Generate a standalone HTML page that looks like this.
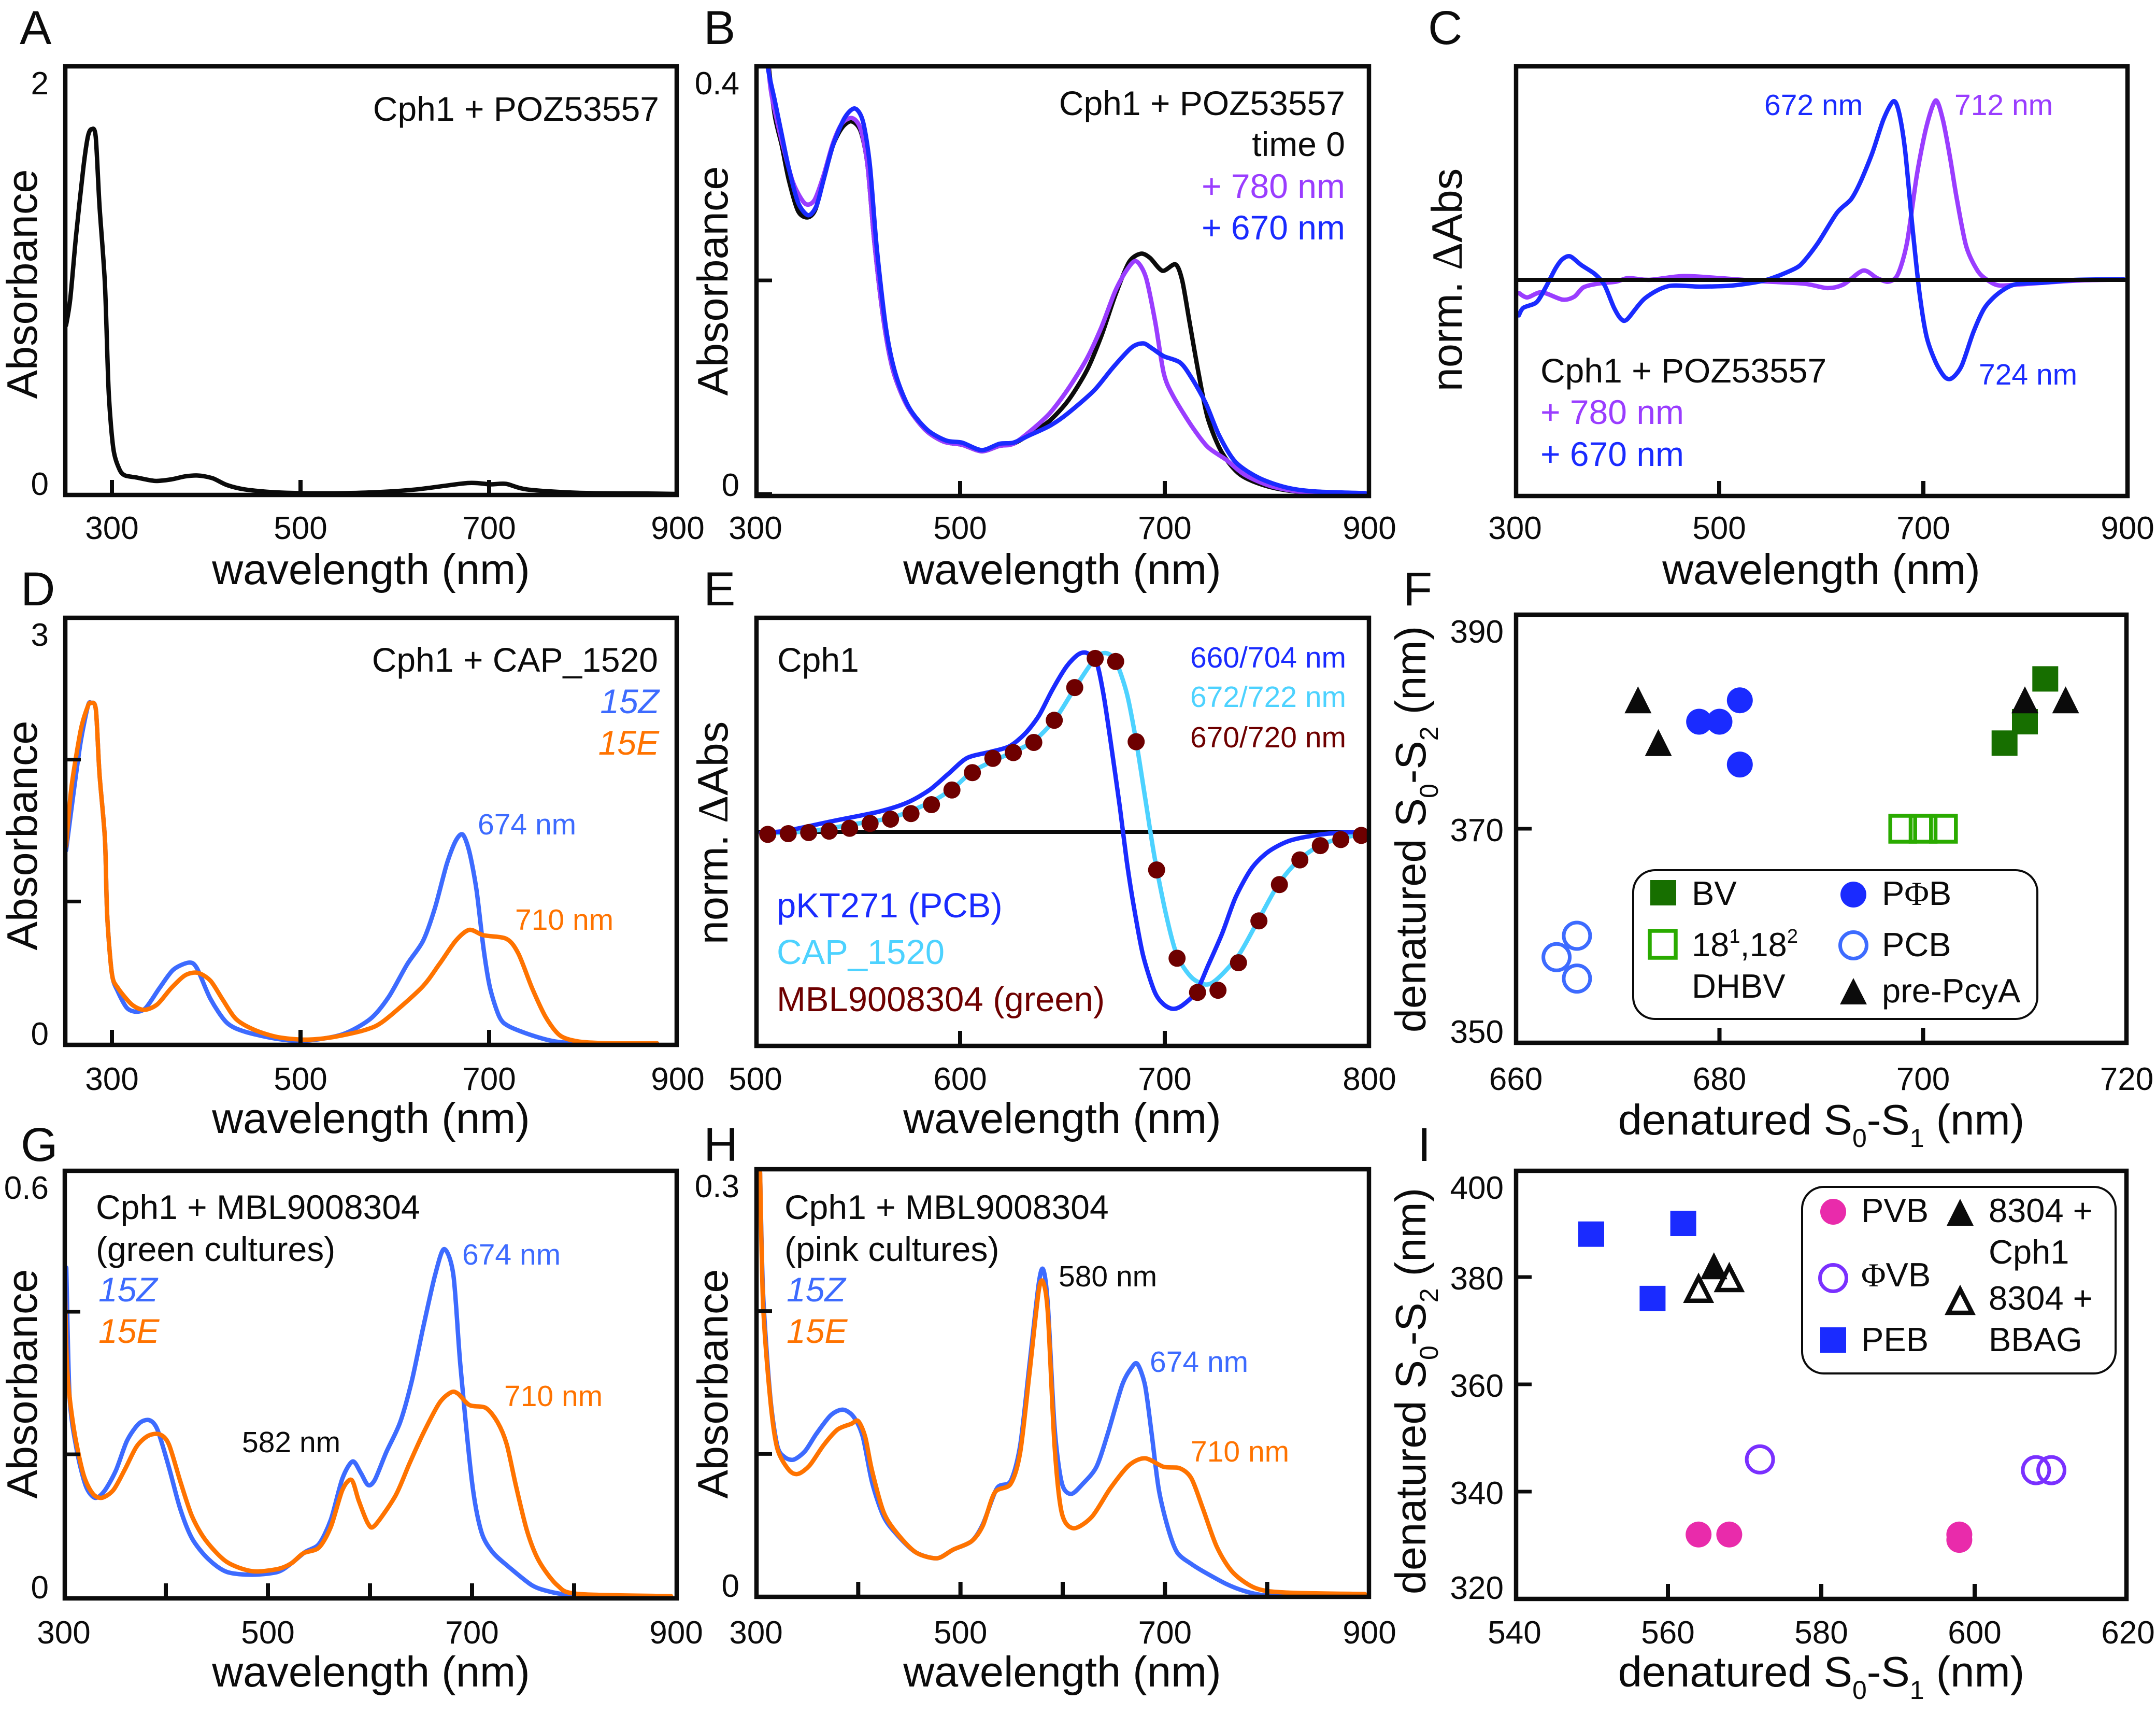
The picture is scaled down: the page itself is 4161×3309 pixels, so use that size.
<!DOCTYPE html>
<html lang="en">
<head>
<meta charset="utf-8">
<title>Absorbance spectra panels</title>
<style>
html,body{margin:0;padding:0;background:#fff;}
svg{display:block;}
text{font-family:"Liberation Sans",sans-serif;fill:#0b0b0b;}
.tick{font-size:62px;}
.title{font-size:83px;}
.ann{font-size:66px;}
.small{font-size:57px;}
.letter{font-size:92px;}
.serif{font-family:"Liberation Serif",serif;}
.it{font-style:italic;}
.sub{font-size:50px;}
.leg{font-size:65px;}
</style>
</head>
<body>
<svg id="chart" xmlns="http://www.w3.org/2000/svg" width="4161" height="3309" viewBox="0 0 4161 3309">
<rect x="0" y="0" width="4161" height="3309" fill="#fff"/>
<g id="plots"></g>

<g>
<text class="letter" x="38" y="85">A</text>
<text class="letter" x="1358" y="85">B</text>
<text class="letter" x="2756" y="85">C</text>
<text class="letter" x="40" y="1168">D</text>
<text class="letter" x="1358" y="1168">E</text>
<text class="letter" x="2708" y="1168">F</text>
<text class="letter" x="40" y="2240">G</text>
<text class="letter" x="1358" y="2240">H</text>
<text class="letter" x="2736" y="2240">I</text>
</g>

<g>
<text class="title" x="716" y="1127" text-anchor="middle">wavelength (nm)</text>
<text class="title" x="2050" y="1127" text-anchor="middle">wavelength (nm)</text>
<text class="title" x="3515" y="1127" text-anchor="middle">wavelength (nm)</text>
<text class="title" x="716" y="2186" text-anchor="middle">wavelength (nm)</text>
<text class="title" x="2050" y="2186" text-anchor="middle">wavelength (nm)</text>
<text class="title" x="3515" y="2189" text-anchor="middle">denatured S<tspan class="sub" dy="24">0</tspan><tspan dy="-24">-S</tspan><tspan class="sub" dy="24">1</tspan><tspan dy="-24"> (nm)</tspan></text>
<text class="title" x="716" y="3254" text-anchor="middle">wavelength (nm)</text>
<text class="title" x="2050" y="3254" text-anchor="middle">wavelength (nm)</text>
<text class="title" x="3515" y="3254" text-anchor="middle">denatured S<tspan class="sub" dy="24">0</tspan><tspan dy="-24">-S</tspan><tspan class="sub" dy="24">1</tspan><tspan dy="-24"> (nm)</tspan></text>

<text class="title" transform="translate(71 548) rotate(-90)" text-anchor="middle">Absorbance</text>
<text class="title" transform="translate(1404 542) rotate(-90)" text-anchor="middle">Absorbance</text>
<text class="title" transform="translate(2821 540) rotate(-90)" text-anchor="middle">norm.<tspan dx="22" class="serif">Δ</tspan>Abs</text>
<text class="title" transform="translate(71 1612) rotate(-90)" text-anchor="middle">Absorbance</text>
<text class="title" transform="translate(1404 1607) rotate(-90)" text-anchor="middle">norm.<tspan dx="22" class="serif">Δ</tspan>Abs</text>
<text class="title" transform="translate(2751 1600) rotate(-90)" text-anchor="middle">denatured S<tspan class="sub" dy="24">0</tspan><tspan dy="-24">-S</tspan><tspan class="sub" dy="24">2</tspan><tspan dy="-24"> (nm)</tspan></text>
<text class="title" transform="translate(71 2670) rotate(-90)" text-anchor="middle">Absorbance</text>
<text class="title" transform="translate(1404 2670) rotate(-90)" text-anchor="middle">Absorbance</text>
<text class="title" transform="translate(2751 2684) rotate(-90)" text-anchor="middle">denatured S<tspan class="sub" dy="24">0</tspan><tspan dy="-24">-S</tspan><tspan class="sub" dy="24">2</tspan><tspan dy="-24"> (nm)</tspan></text>
</g>

<g>
<text class="ann" x="1272" y="233" text-anchor="end">Cph1 + POZ53557</text>
</g>
<g>
<text class="ann" x="2596" y="222" text-anchor="end">Cph1 + POZ53557</text>
<text class="ann" x="2596" y="301" text-anchor="end">time 0</text>
<text class="ann" x="2596" y="382" text-anchor="end" style="fill:#9a3dff">+ 780 nm</text>
<text class="ann" x="2596" y="462" text-anchor="end" style="fill:#1a2bff">+ 670 nm</text>
</g>
<g>
<text class="small" x="3405" y="222" style="fill:#1a2bff">672 nm</text>
<text class="small" x="3772" y="222" style="fill:#9a3dff">712 nm</text>
<text class="small" x="3819" y="742" style="fill:#1a2bff">724 nm</text>
<text class="ann" x="2973" y="738">Cph1 + POZ53557</text>
<text class="ann" x="2973" y="818" style="fill:#9a3dff">+ 780 nm</text>
<text class="ann" x="2973" y="899" style="fill:#1a2bff">+ 670 nm</text>
</g>
<g>
<text class="ann" x="1270" y="1296" text-anchor="end">Cph1 + CAP_1520</text>
<text class="ann it" x="1272" y="1376" text-anchor="end" style="fill:#3d6bff">15Z</text>
<text class="ann it" x="1272" y="1456" text-anchor="end" style="fill:#ff7300">15E</text>
<text class="small" x="922" y="1610" style="fill:#3d6bff">674 nm</text>
<text class="small" x="994" y="1794" style="fill:#ff7300">710 nm</text>
</g>
<g>
<text class="ann" x="1500" y="1296">Cph1</text>
<text class="small" x="2598" y="1288" text-anchor="end" style="fill:#1a2bff">660/704 nm</text>
<text class="small" x="2598" y="1364" text-anchor="end" style="fill:#4dd2ff">672/722 nm</text>
<text class="small" x="2598" y="1442" text-anchor="end" style="fill:#6e0000">670/720 nm</text>
<text class="ann" x="1499" y="1770" style="fill:#1a2bff;font-size:67px">pKT271 (PCB)</text>
<text class="ann" x="1499" y="1860" style="fill:#4dd2ff;font-size:67px">CAP_1520</text>
<text class="ann" x="1499" y="1951" style="fill:#6e0000;font-size:67px">MBL9008304 (green)</text>
</g>
<g>
<text class="ann" x="185" y="2352">Cph1 + MBL9008304</text>
<text class="ann" x="185" y="2433">(green cultures)</text>
<text class="ann it" x="190" y="2511" style="fill:#3d6bff">15Z</text>
<text class="ann it" x="190" y="2591" style="fill:#ff7300">15E</text>
<text class="small" x="467" y="2802">582 nm</text>
<text class="small" x="892" y="2440" style="fill:#3d6bff">674 nm</text>
<text class="small" x="973" y="2713" style="fill:#ff7300">710 nm</text>
</g>
<g>
<text class="ann" x="1514" y="2352">Cph1 + MBL9008304</text>
<text class="ann" x="1514" y="2433">(pink cultures)</text>
<text class="ann it" x="1518" y="2511" style="fill:#3d6bff">15Z</text>
<text class="ann it" x="1518" y="2591" style="fill:#ff7300">15E</text>
<text class="small" x="2043" y="2482">580 nm</text>
<text class="small" x="2219" y="2647" style="fill:#3d6bff">674 nm</text>
<text class="small" x="2298" y="2820" style="fill:#ff7300">710 nm</text>
</g>

<g>
<rect x="3152" y="1679" width="780" height="287" rx="42" ry="42" fill="none" stroke="#0b0b0b" stroke-width="4"/>
<rect x="3185" y="1698" width="50" height="49" fill="#176f00"/>
<text class="leg" x="3265" y="1746">BV</text>
<circle cx="3577" cy="1726" r="25" fill="#1a2bff"/>
<text class="leg" x="3632" y="1746">P<tspan class="serif">Φ</tspan>B</text>
<rect x="3184" y="1796" width="50" height="52" fill="none" stroke="#2aab00" stroke-width="7.5"/>
<text class="leg" x="3265" y="1845">18<tspan style="font-size:38px" dy="-26">1</tspan><tspan dy="26">,18</tspan><tspan style="font-size:38px" dy="-26">2</tspan></text>
<text class="leg" x="3265" y="1925">DHBV</text>
<circle cx="3577" cy="1824" r="25.5" fill="none" stroke="#3d6bff" stroke-width="7"/>
<text class="leg" x="3632" y="1845">PCB</text>
<polygon points="3577,1887 3603,1938 3551,1938" fill="#0b0b0b"/>
<text class="leg" x="3632" y="1934">pre-PcyA</text>
</g>

<g>
<rect x="3478" y="2290" width="605" height="360" rx="42" ry="42" fill="none" stroke="#0b0b0b" stroke-width="4"/>
<circle cx="3538" cy="2338" r="25" fill="#e92bab"/>
<text class="leg" x="3592" y="2358">PVB</text>
<polygon points="3783,2313 3809,2365 3757,2365" fill="#0b0b0b"/>
<text class="leg" x="3838" y="2358">8304 +</text>
<text class="leg" x="3838" y="2438">Cph1</text>
<circle cx="3538" cy="2466" r="25.5" fill="none" stroke="#7a30ff" stroke-width="7"/>
<text class="leg" x="3592" y="2482"><tspan class="serif">Φ</tspan>VB</text>
<polygon points="3783,2488 3806,2533 3760,2533" fill="none" stroke="#0b0b0b" stroke-width="8.5"/>
<text class="leg" x="3838" y="2527">8304 +</text>
<text class="leg" x="3838" y="2607">BBAG</text>
<rect x="3513" y="2561" width="50" height="49" fill="#1a2bff"/>
<text class="leg" x="3592" y="2607">PEB</text>
</g>
</svg>

<script>
// ---------- Panel A ----------
const aWavelength=[251.4,255.8,262,269.6,274.5,278.4,282.8,286.8,292.6,296.6,301.5,307.8,313.7,326,345.6,362.8,377.5,392,407,421.7,441,475.6,525,574,623,677,701,718,740,794.5,868,897];
const aAbsorbance=[.79,.913,1.21,1.524,1.673,1.708,1.673,1.35,.983,.476,.213,.117,.087,.077,.061,.068,.082,.086,.073,.042,.021,.007,.003,.007,.021,.051,.045,.047,.021,.005,.002,0];
const aXTickLabels=[300,500,700,900];
const aXTickMarks=[300,500,700];
const aYTickLabels=[0,2];
const aYTickMarks=[];

// ---------- Panel B ----------
const bWlBlack=[306,313,319,325.8,332.6,341.6,350.7,358.4,366.5,375.6,384.6,393.7,402.7,409.5,416.3,425.3,434.4,448,466,484,502,521,538.5,552,570,588,606,624,638,651.6,665,676.5,685.6,697.7,710.4,717,724,733,742,755.7,773.8,801,837,896];
const bAbsBlack=[.47,.40,.354,.326,.294,.265,.259,.266,.294,.326,.343,.349,.34,.308,.235,.162,.116,.083,.06,.049,.046,.04,.045,.047,.057,.069,.088,.116,.148,.186,.217,.225,.221,.209,.215,.2,.162,.113,.071,.039,.018,.007,.0014,.0007];
const bWlPurple=[308,314.5,321,328,337,348.4,357.5,366.5,375.6,384.6,394.6,402.7,409.5,416.3,425.3,434.4,448,466,484,502,521,538.5,552,570,588,606,624,638,651.6,663,672,681.5,690.5,699,708,726,742,760,778,805,842,896];
const bAbsPurple=[.45,.382,.35,.322,.291,.272,.275,.298,.328,.347,.352,.342,.308,.235,.162,.116,.083,.06,.049,.046,.04,.045,.047,.06,.076,.099,.127,.156,.19,.21,.218,.203,.162,.113,.092,.064,.044,.032,.018,.007,.001,.0004];
const bWlBlue=[306,312,319,325.8,332.6,341.6,351.6,359.7,366.5,375.6,387,397,405,411.8,418.5,427.6,436.7,450,468,486.4,502,521,538.5,552,568,588,606,631,649,667.4,679,688,699,715,726,740,753,769,792,819,846,896];
const bAbsBlue=[.45,.4,.368,.336,.305,.273,.261,.27,.294,.326,.352,.361,.349,.308,.231,.155,.113,.081,.06,.05,.048,.041,.047,.048,.055,.064,.076,.097,.118,.137,.141,.136,.129,.123,.109,.085,.055,.03,.015,.006,.0024,.0007];
const bXTickLabels=[300,500,700,900];
const bXTickMarks=[500,700];
const bYTickLabels=[0,.4];
const bYTickMarks=[0,.2];

// ---------- Panel C ----------
const cWlBlue=[303.7,308,321,330,339.5,346.4,354,364.8,378.6,387.8,397,404,410,427,450,482,514,546.4,574,583,597,615.5,629,638,650,661,670.6,676,682,689,696,703,712,721,728,737.5,749,760,774,790,818,850,896];
const cDeltaBlue=[-.198,-.156,-.125,-.042,.0625,.115,.131,.083,.031,-.031,-.156,-.219,-.219,-.104,-.035,-.0375,-.031,0,.0625,.104,.208,.375,.448,.542,.708,.896,.996,.9375,.729,.3125,-.0625,-.3125,-.458,-.542,-.548,-.479,-.292,-.156,-.073,-.025,-.015,0,.004];
const cWlPurple=[303.7,312,326,346.4,358,367,381,399,411,431.5,464,500,537,583,606,622,641,654.5,666,675,684,693.6,703,712,719,726,732.6,742,753,762.5,774,795,850,896];
const cDeltaPurple=[-.073,-.098,-.069,-.11,-.094,-.042,-.021,-.01,.01,0,.021,.01,-.006,-.021,-.046,-.025,.052,.01,-.01,.031,.208,.583,.854,1,.896,.6875,.458,.1875,.052,0,-.031,-.025,-.004,.002];
const cXTickLabels=[300,500,700,900];
const cXTickMarks=[500,700];

// ---------- Panel D ----------
const dWlBlue=[251.4,260,267,274.5,278,283,286.8,292.6,295,300,306.4,316,326,335.8,350.5,365,381.5,390,404.5,421.7,441,475.6,505,544,574,593.4,613,630,642.5,655,664.6,672,679,686.6,694,701,711,721,745.5,770,799.5,878];
const dAbsBlue=[1.36,1.8,2.13,2.377,2.4,2.35,1.9,1.44,.9,.49,.364,.249,.223,.249,.39,.518,.569,.531,.313,.146,.082,.031,.018,.062,.172,.326,.556,.723,.954,1.262,1.428,1.472,1.351,1.082,.672,.39,.185,.12,.056,.013,0,0];
const dWlOrange=[251.4,257,267,274.5,278,283,286.8,292.6,295,300,306.4,321,334,348,363,377.5,391,404.5,417,431.5,451,475.6,505,534.5,569,588.5,628,647,664.6,679,694,718.5,731,745.5,760,775,794.6,829,878];
const dAbsOrange=[1.39,1.8,2.21,2.377,2.4,2.35,1.9,1.44,.9,.49,.39,.274,.236,.274,.39,.479,.497,.441,.313,.172,.095,.044,.026,.044,.095,.159,.39,.556,.723,.8,.762,.736,.633,.39,.185,.056,.013,0,0];
const dXTickLabels=[300,500,700,900];
const dXTickMarks=[300,500,700];
const dYTickLabels=[0,3];
const dYTickMarks=[1,2];

// ---------- Panel E ----------
const eWlBlue=[502.7,515,538,560,574,585,594.3,603.4,614.7,624,631.7,638.5,645,652,657.7,662,666.7,670,673.5,678,681.4,685,689.4,695,699.5,704,708.6,715.4,721,728,734.6,742.5,750.5,760.6,773,786.7,799];
const eDeltaBlue=[-.004,.006,.061,.112,.163,.234,.325,.413,.447,.478,.549,.65,.793,.925,.992,1,.945,.772,.508,.142,-.163,-.427,-.691,-.894,-.965,-.99,-.97,-.894,-.752,-.569,-.366,-.203,-.112,-.051,-.02,-.004,0];
const eWlCyan=[502.7,526.5,547,567,585,596.6,605.7,616,626,636,646.4,656,665.6,671,676,681.5,686,690.5,695,700.7,706,713,720,725.6,736,745.5,755.4,765,775,785.5,798];
const eDeltaCyan=[-.01,.004,.041,.081,.163,.244,.335,.396,.447,.508,.63,.803,.965,1,.955,.772,.508,.183,-.142,-.467,-.691,-.813,-.854,-.823,-.691,-.498,-.295,-.163,-.081,-.037,-.01];
const eWlDots=[506,516,526,536,546,556,566,576,586,596,606,616,626,636,646,656,666,676,686,696,706,716,726,736,746,756,766,776,786,796];
const eDeltaDots=[-.014,-.01,-.004,.004,.02,.047,.071,.102,.152,.234,.331,.411,.443,.5,.624,.807,.97,.953,.504,-.213,-.707,-.898,-.886,-.732,-.498,-.295,-.157,-.077,-.043,-.02];
const eXTickLabels=[500,600,700,800];
const eXTickMarks=[600,700];

// ---------- Panel F ----------
const fXTickLabels=[660,680,700,720];
const fXTickMarks=[680,700];
const fYTickLabels=[350,370,390];
const fYTickMarks=[370];
const fBvS1=[712,710,708];
const fBvS2=[384,380,378];
const fPreS1=[672,674,710,714];
const fPreS2=[382,378,382,382];
const fPfbS1=[678,680,682,682];
const fPfbS2=[380,380,382,376];
const fDhbvS1=[698,700,702];
const fDhbvS2=[370,370,370];
const fPcbS1=[664,666,666];
const fPcbS2=[358,360,356];

// ---------- Panel G ----------
const gWlBlue=[302.5,305.7,312.5,321.5,330.5,339.6,351,362,373.6,383.6,391.7,403,414,425.7,441.6,459.7,484.6,509.6,523,536.6,550,561.6,573,583,591,598,604.7,616,629.6,641,652,663.7,672.7,681.8,688.6,700,709,720,736,759,777,799.6];
const gAbsBlue=[.462,.282,.208,.156,.139,.148,.177,.219,.243,.248,.235,.182,.124,.082,.053,.035,.031,.035,.047,.063,.074,.108,.166,.19,.174,.157,.164,.203,.245,.303,.377,.451,.488,.451,.325,.161,.092,.063,.042,.016,.007,.001];
const gWlOrange=[301,303.4,310,319.3,328.3,337.4,348.7,360,371.4,382.7,394,403,414.4,425.7,439.3,459.7,484.6,509.6,523,534.6,550,561.6,573,582,589,598,604.7,625,638.7,652.4,668,679.5,686.3,697.6,713.6,725,734,743,754,765.7,783.7,804,895];
const gAbsOrange=[.45,.319,.235,.172,.145,.139,.15,.179,.211,.226,.228,.214,.161,.113,.079,.049,.036,.039,.047,.061,.069,.098,.15,.164,.135,.103,.1,.142,.187,.23,.272,.287,.285,.269,.265,.245,.214,.156,.092,.05,.016,.004,.001];
const gXTickLabels=[300,500,700,900];
const gXTickMarks=[400,500,600,700,800];
const gYTickLabels=[0,.6];
const gYTickMarks=[.2,.4];

// ---------- Panel H ----------
const hWlBlue=[304,307,314,320.8,327.6,336.7,348,359,373,385,395.5,404.5,413.6,425,438.5,456.6,477,492.8,511,522,535.7,549,558.4,567.4,576.5,581,585.5,592,599,608,619.5,633,644,658,667,673,680.5,687,694,703,712,725.8,737,760,778,798,827.6,895];
const hAbsBlue=[.297,.212,.14,.106,.098,.096,.102,.114,.127,.131,.126,.112,.08,.056,.043,.031,.027,.033,.039,.051,.076,.081,.106,.162,.219,.229,.204,.119,.08,.072,.079,.091,.114,.148,.16,.163,.148,.114,.075,.048,.031,.023,.018,.009,.004,.001,.001,.001];
const hWlOrange=[304,307,314,320.8,332,341,352.5,366,379.6,393,400,406.8,413.6,425,438.5,456.6,477,492.8,511,522,533.5,549,558.4,567.4,576.5,581,585.5,592,599,610.4,628.5,646.6,664.7,680.5,698.6,714.5,725.8,737,750.7,766.5,789,818.5,895.5];
const hAbsOrange=[.297,.204,.138,.104,.089,.086,.092,.106,.117,.121,.123,.112,.088,.059,.044,.031,.027,.033,.039,.05,.073,.079,.101,.156,.214,.22,.198,.106,.059,.048,.056,.076,.092,.097,.091,.09,.083,.062,.035,.017,.006,.003,.002];
const hXTickLabels=[300,500,700,900];
const hXTickMarks=[400,500,600,700,800];
const hYTickLabels=[0,.3];
const hYTickMarks=[.1,.2];

// ---------- Panel I ----------
const iXTickLabels=[540,560,580,600,620];
const iXTickMarks=[560,580,600];
const iYTickLabels=[320,340,360,380,400];
const iYTickMarks=[340,360,380];
const iPebS1=[550,562,558];
const iPebS2=[388,390,376];
const iCph1S1=[566];
const iCph1S2=[382];
const iBbagS1=[564,568];
const iBbagS2=[378,380];
const iFvbS1=[572,608,610];
const iFvbS2=[346,344,344];
const iPvbS1=[564,568,598,598];
const iPvbS2=[332,332,332,331];

const NS='http://www.w3.org/2000/svg';
const INK='#0b0b0b';
const BLUE='#1a2bff', PURPLE='#9a3dff', LBLUE='#3d6bff', ORANGE='#ff7300', CYAN='#4dd2ff', MAROON='#6e0000';
const plots=document.getElementById('plots');

function mk(tag,attrs,parent){
  const el=document.createElementNS(NS,tag);
  for(const k in attrs){el.setAttribute(k,attrs[k]);}
  (parent||plots).appendChild(el);
  return el;
}
function scale(d0,p0,d1,p1){return v=>p0+(v-d0)*(p1-p0)/(d1-d0);}
function makePanel(id,frame,xa,ya){
  const g=mk('g',{});
  
  
  const defs=mk('clipPath',{id:'clip-'+id},g);
  mk('rect',{x:frame[0],y:frame[1],width:frame[2]-frame[0],height:frame[3]-frame[1]},defs);
  const marks=mk('g',{'clip-path':'url(#clip-'+id+')'},g);
  
  
  return {id,g,marks,L:frame[0],T:frame[1],R:frame[2],B:frame[3],x:scale(xa[0],xa[1],xa[2],xa[3]),y:scale(ya[0],ya[1],ya[2],ya[3])};
}
function smoothPath(pts){
  let d='M'+pts[0][0].toFixed(1)+' '+pts[0][1].toFixed(1);
  const t=0.14;
  for(let i=0;i<pts.length-1;i++){
    const p0=pts[Math.max(i-1,0)],p1=pts[i],p2=pts[i+1],p3=pts[Math.min(i+2,pts.length-1)];
    const c1x=p1[0]+(p2[0]-p0[0])*t,c1y=p1[1]+(p2[1]-p0[1])*t;
    const c2x=p2[0]-(p3[0]-p1[0])*t,c2y=p2[1]-(p3[1]-p1[1])*t;
    d+='C'+c1x.toFixed(1)+' '+c1y.toFixed(1)+' '+c2x.toFixed(1)+' '+c2y.toFixed(1)+' '+p2[0].toFixed(1)+' '+p2[1].toFixed(1);
  }
  return d;
}
function drawLine(p,name,xv,yv,color){
  const pts=xv.map((v,i)=>[p.x(v),p.y(yv[i])]);
  const el=mk('path',{d:smoothPath(pts),fill:'none',stroke:color,'stroke-width':8.5,'stroke-linejoin':'round','stroke-linecap':'round'},p.marks);
  
  
}
function drawZero(p,name){
  const y=p.y(0);
  const el=mk('line',{x1:p.L,x2:p.R,y1:y,y2:y,stroke:INK,'stroke-width':8},p.marks);
  
  
}
function drawFrame(p){
  const el=mk('rect',{x:p.L,y:p.T,width:p.R-p.L,height:p.B-p.T,fill:'none',stroke:INK,'stroke-width':8.5},p.g);
  
  
}
function drawXAxis(p,labels,marks,baseline){
  marks.forEach(v=>{
    const x=p.x(v);
    const el=mk('line',{x1:x,x2:x,y1:p.B,y2:p.B-29,stroke:INK,'stroke-width':8},p.g);
    
    
  });
  labels.forEach(v=>{
    const el=mk('text',{x:p.x(v),y:baseline,'text-anchor':'middle',class:'tick'},p.g);
    el.textContent=String(v);
    
    
  });
}
function drawYAxis(p,labels,marks,rightEdge){
  marks.forEach(v=>{
    const y=Math.min(p.y(v),p.B-2);
    const el=mk('line',{x1:p.L,x2:p.L+30,y1:y,y2:y,stroke:INK,'stroke-width':7},p.g);
    
    
  });
  labels.forEach(v=>{
    const base=Math.min(Math.max(p.y(v)+24,p.T+54),p.B);
    const el=mk('text',{x:rightEdge,y:base,'text-anchor':'end',class:'tick'},p.g);
    el.textContent=String(v).replace(/^\.|^0\./,'0.');
    
    
  });
}
function drawMarkers(p,name,kind,xv,yv,color){
  xv.forEach((v,i)=>{
    const cx=p.x(v),cy=p.y(yv[i]);
    let el;
    if(kind==='square'){el=mk('rect',{x:cx-25,y:cy-24.5,width:50,height:49,fill:color},p.marks);}
    else if(kind==='opensquare'){el=mk('rect',{x:cx-24,y:cy-25,width:48,height:50,fill:'none',stroke:color,'stroke-width':7.5},p.marks);}
    else if(kind==='circle'){el=mk('circle',{cx:cx,cy:cy,r:25,fill:color},p.marks);}
    else if(kind==='opencircle'){el=mk('circle',{cx:cx,cy:cy,r:25.5,fill:'none',stroke:color,'stroke-width':7},p.marks);}
    else if(kind==='triangle'){el=mk('polygon',{points:(cx)+','+(cy-27)+' '+(cx+26)+','+(cy+25)+' '+(cx-26)+','+(cy+25),fill:color},p.marks);}
    else if(kind==='opentriangle'){el=mk('polygon',{points:(cx)+','+(cy-20)+' '+(cx+23)+','+(cy+25)+' '+(cx-23)+','+(cy+25),fill:'none',stroke:color,'stroke-width':8.5},p.marks);}
    else{el=mk('circle',{cx:cx,cy:cy,r:16.5,fill:color},p.marks);}
    
    
  });
}

// Panel A
const pA=makePanel('a',[126,128,1306,955],[300,216,700,944],[0,953,2,129]);
drawLine(pA,'absorbance-line-a',aWavelength,aAbsorbance,INK);
drawFrame(pA);
drawXAxis(pA,aXTickLabels,aXTickMarks,1040);
drawYAxis(pA,aYTickLabels,aYTickMarks,94);

// Panel B
const pB=makePanel('b',[1460,128,2642,957],[300,1458,900,2643],[0,953,.4,129]);
drawLine(pB,'time-0-line',bWlBlack,bAbsBlack,INK);
drawLine(pB,'plus-780-line',bWlPurple,bAbsPurple,PURPLE);
drawLine(pB,'plus-670-line',bWlBlue,bAbsBlue,BLUE);
drawFrame(pB);
drawXAxis(pB,bXTickLabels,bXTickMarks,1040);
drawYAxis(pB,bYTickLabels,bYTickMarks,1427);

// Panel C
const pC=makePanel('c',[2926,128,4106,957],[300,2924,900,4106],[0,540,1,194]);
drawLine(pC,'delta-780-line',cWlPurple,cDeltaPurple,PURPLE);
drawLine(pC,'delta-670-line',cWlBlue,cDeltaBlue,BLUE);
drawZero(pC,'zero-line-c');
drawFrame(pC);
drawXAxis(pC,cXTickLabels,cXTickMarks,1040);

// Panel D
const pD=makePanel('d',[126,1192,1306,2016],[300,216,700,944],[0,2013,3,1192]);
drawLine(pD,'15z-line-d',dWlBlue,dAbsBlue,LBLUE);
drawLine(pD,'15e-line-d',dWlOrange,dAbsOrange,ORANGE);
drawFrame(pD);
drawXAxis(pD,dXTickLabels,dXTickMarks,2103);
drawYAxis(pD,dYTickLabels,dYTickMarks,94);

// Panel E
const pE=makePanel('e',[1460,1192,2642,2018],[500,1458,800,2643],[0,1605,1,1260]);
drawZero(pE,'zero-line-e');
drawLine(pE,'cap-1520-line',eWlCyan,eDeltaCyan,CYAN);
drawLine(pE,'pkt271-line',eWlBlue,eDeltaBlue,BLUE);
drawMarkers(pE,'mbl9008304-dot','dot',eWlDots,eDeltaDots,MAROON);
drawFrame(pE);
drawXAxis(pE,eXTickLabels,eXTickMarks,2103);

// Panel F
const pF=makePanel('f',[2926,1186,4104,2012],[660,2925.5,720,4104.5],[350,2012,390,1186]);
drawMarkers(pF,'bv-point','square',fBvS1,fBvS2,'#176f00');
drawMarkers(pF,'pre-pcya-point','triangle',fPreS1,fPreS2,INK);
drawMarkers(pF,'pfb-point','circle',fPfbS1,fPfbS2,BLUE);
drawMarkers(pF,'dhbv-point','opensquare',fDhbvS1,fDhbvS2,'#2aab00');
drawMarkers(pF,'pcb-point','opencircle',fPcbS1,fPcbS2,LBLUE);
drawFrame(pF);
drawXAxis(pF,fXTickLabels,fXTickMarks,2103);
drawYAxis(pF,fYTickLabels,fYTickMarks,2902);

// Panel G
const pG=makePanel('g',[125,2259,1306,3084],[300,123,900,1305],[0,3081,.6,2256]);
drawLine(pG,'15z-line-g',gWlBlue,gAbsBlue,LBLUE);
drawLine(pG,'15e-line-g',gWlOrange,gAbsOrange,ORANGE);
drawFrame(pG);
drawXAxis(pG,gXTickLabels,gXTickMarks,3171);
drawYAxis(pG,gYTickLabels,gYTickMarks,94);

// Panel H
const pH=makePanel('h',[1460,2256,2642,3081],[300,1459,900,2643],[0,3081,.3,2254]);
drawLine(pH,'15z-line-h',hWlBlue,hAbsBlue,LBLUE);
drawLine(pH,'15e-line-h',hWlOrange,hAbsOrange,ORANGE);
drawFrame(pH);
drawXAxis(pH,hXTickLabels,hXTickMarks,3171);
drawYAxis(pH,hYTickLabels,hYTickMarks,1427);

// Panel I
const pI=makePanel('i',[2926,2259,4104,3085],[540,2923,620,4107],[320,3085,400,2257]);
drawMarkers(pI,'peb-point','square',iPebS1,iPebS2,BLUE);
drawMarkers(pI,'8304-cph1-point','triangle',iCph1S1,iCph1S2,INK);
drawMarkers(pI,'8304-bbag-point','opentriangle',iBbagS1,iBbagS2,INK);
drawMarkers(pI,'fvb-point','opencircle',iFvbS1,iFvbS2,'#7a30ff');
drawMarkers(pI,'pvb-point','circle',iPvbS1,iPvbS2,'#e92bab');
drawFrame(pI);
drawXAxis(pI,iXTickLabels,iXTickMarks,3171);
drawYAxis(pI,iYTickLabels,iYTickMarks,2902);
</script>
</body>
</html>
